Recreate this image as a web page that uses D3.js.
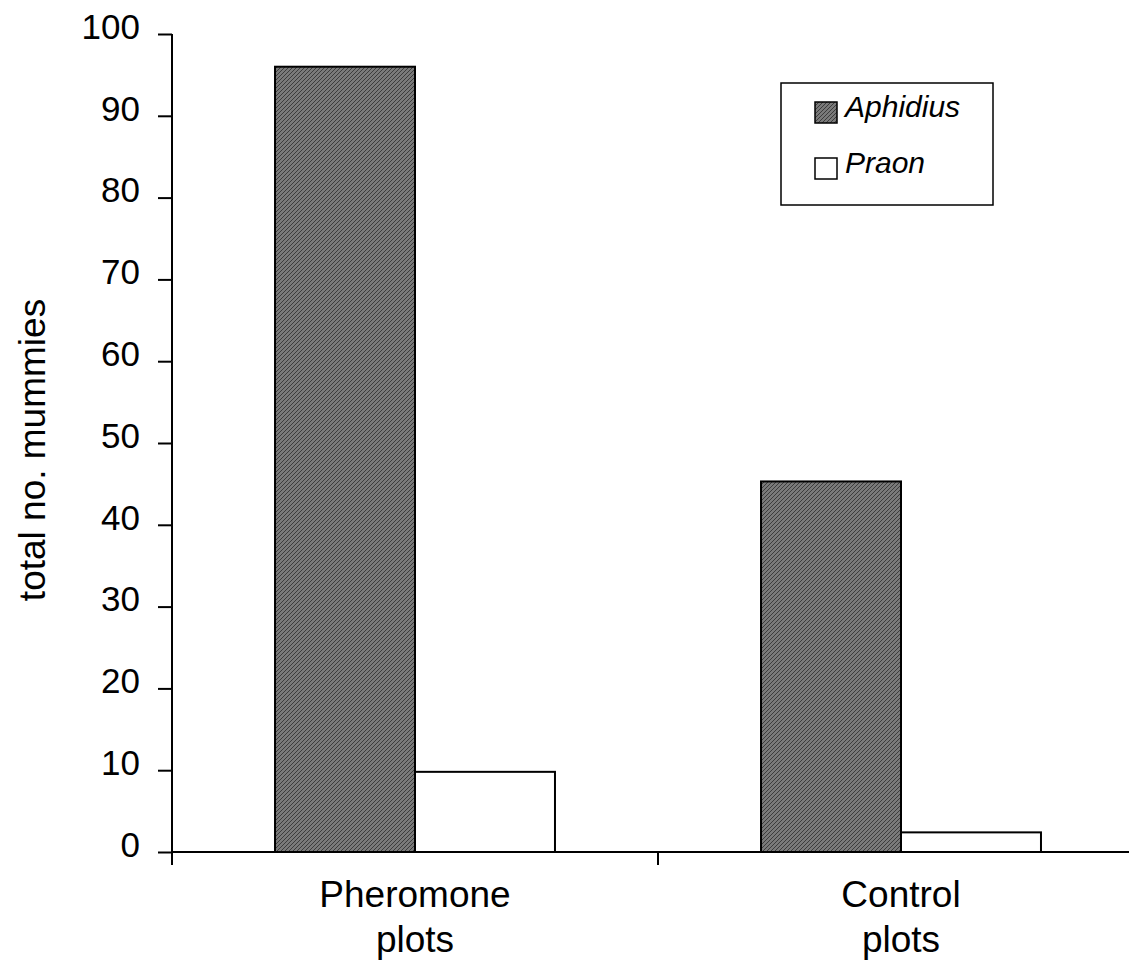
<html>
<head>
    <script src="https://cdn.jsdelivr.net/npm/d3@7"></script>
    <style>
        body {
            margin: 0;
            background: white;
            font-family: "Liberation Sans", Arial, sans-serif;
        }
    </style>
</head>
<body>
<svg id="chart"></svg>
<script>
    // data
    let categories = ["Pheromone plots", "Control plots"];
    let seriesNames = ["Aphidius", "Praon"];
    let aphidius = [96, 45.3];
    let praon = [9.8, 2.4];
    let yTicks = [0, 10, 20, 30, 40, 50, 60, 70, 80, 90, 100];

    let width = 1129, height = 970;
    let margin = {top: 34, left: 172, bottom: 118};
    let svg = d3.select("#chart").attr("width", width).attr("height", height);

    let y = d3.scaleLinear().domain([0, 100]).range([height - margin.bottom, margin.top]);
    let x0 = d3.scaleBand().domain(categories).range([margin.left, 1144]).paddingInner(0);
    let x1 = d3.scaleBand().domain(seriesNames).range([0, x0.bandwidth()]).paddingInner(0).paddingOuter(0.736);

    // textured grey fill like the scanned original
    let defs = svg.append("defs");
    let pat = defs.append("pattern")
        .attr("id", "hatch")
        .attr("patternUnits", "userSpaceOnUse")
        .attr("width", 4).attr("height", 4);
    pat.append("rect").attr("width", 4).attr("height", 4).attr("fill", "#7a7a7a");
    pat.append("path").attr("d", "M-1,1 l2,-2 M0,4 l4,-4 M3,5 l2,-2")
        .attr("stroke", "#3c3c3c").attr("stroke-width", 1);

    let fills = {Aphidius: "url(#hatch)", Praon: "white"};

    let rows = categories.map((c, i) => ({cat: c, values: [
        {name: "Aphidius", v: aphidius[i]},
        {name: "Praon", v: praon[i]}
    ]}));

    let groups = svg.selectAll(".grp")
        .data(rows)
        .enter().append("g")
        .attr("class", "grp")
        .attr("transform", d => `translate(${x0(d.cat)},0)`);

    groups.selectAll("rect")
        .data(d => d.values)
        .enter().append("rect")
        .attr("x", d => x1(d.name))
        .attr("y", d => y(d.v))
        .attr("width", x1.bandwidth())
        .attr("height", d => y(0) - y(d.v))
        .attr("fill", d => fills[d.name])
        .attr("stroke", "black")
        .attr("stroke-width", 2);

    // y axis
    let axisY = d3.axisLeft(y).tickValues(yTicks).tickSize(14).tickPadding(18);
    let gy = svg.append("g")
        .attr("transform", `translate(${margin.left},0)`)
        .call(axisY);
    gy.select(".domain").attr("stroke-width", 2).attr("d", `M-0,${y(100)}H0V${y(0)}`);
    gy.selectAll(".tick line").attr("stroke-width", 2);
    gy.selectAll(".tick text")
        .attr("font-family", "Liberation Sans, Arial, sans-serif")
        .attr("font-size", 35)
        .attr("dy", "0.12em")
        .attr("fill", "black");

    // x axis line and category dividers
    svg.append("line")
        .attr("x1", margin.left).attr("x2", width)
        .attr("y1", y(0)).attr("y2", y(0))
        .attr("stroke", "black").attr("stroke-width", 2);
    svg.selectAll(".xtick")
        .data(categories)
        .enter().append("line")
        .attr("x1", d => x0(d)).attr("x2", d => x0(d))
        .attr("y1", y(0)).attr("y2", y(0) + 13)
        .attr("stroke", "black").attr("stroke-width", 2);

    // category labels on two lines
    let catText = svg.selectAll(".cat")
        .data(categories)
        .enter().append("text")
        .attr("x", d => x0(d) + x0.bandwidth() / 2)
        .attr("y", 907)
        .attr("text-anchor", "middle")
        .attr("font-size", 37);
    catText.selectAll("tspan")
        .data(d => d.split(" "))
        .enter().append("tspan")
        .attr("x", function () { return d3.select(this.parentNode).attr("x"); })
        .attr("dy", (d, i) => i == 0 ? 0 : 45)
        .text(d => d);

    // y title
    svg.append("text")
        .attr("transform", `translate(45,450) rotate(-90)`)
        .attr("text-anchor", "middle")
        .attr("font-size", 37)
        .text("total no. mummies");

    // legend
    let lg = svg.append("g").attr("transform", "translate(781,83)");
    lg.append("rect").attr("width", 212).attr("height", 122)
        .attr("fill", "white").attr("stroke", "black").attr("stroke-width", 1.5);
    let items = lg.selectAll(".item")
        .data(seriesNames)
        .enter().append("g")
        .attr("transform", (d, i) => `translate(34,${19 + i * 56})`);
    items.append("rect")
        .attr("width", 22).attr("height", 21)
        .attr("fill", d => fills[d])
        .attr("stroke", "black").attr("stroke-width", 1.5);
    items.append("text")
        .attr("x", 30).attr("y", 15)
        .attr("font-size", 30)
        .attr("font-style", "italic")
        .text(d => d);
</script>
</body>
</html>
